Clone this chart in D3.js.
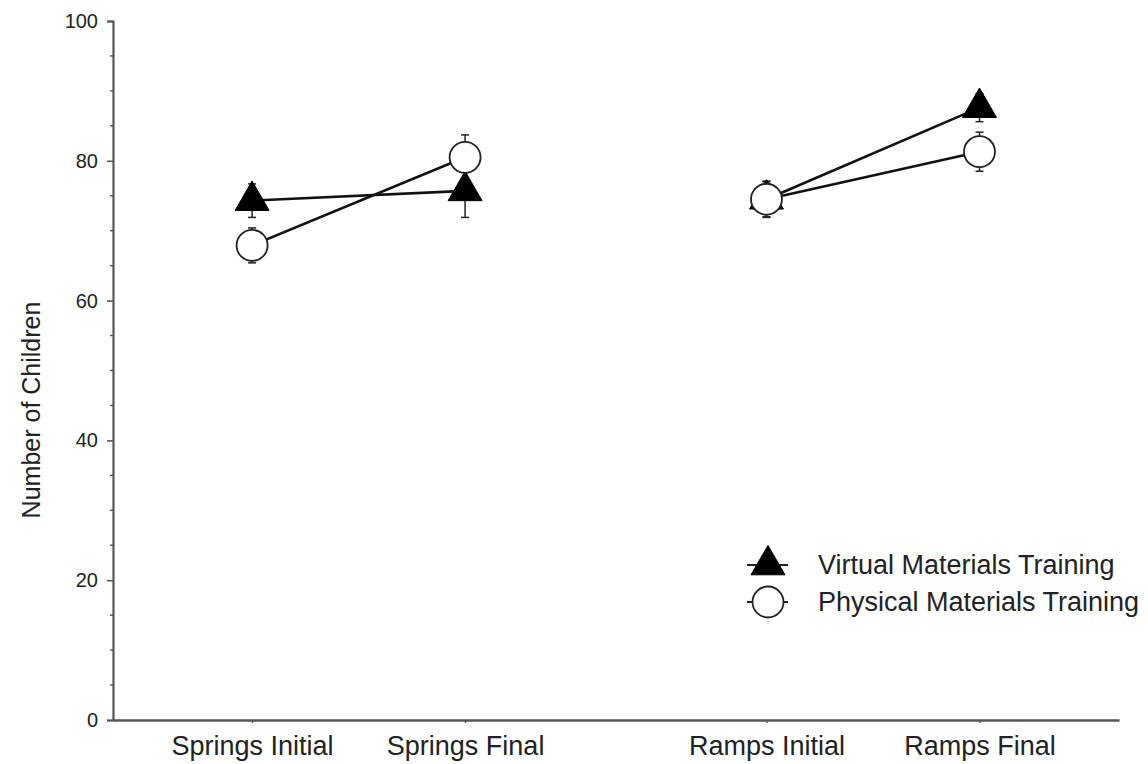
<!DOCTYPE html>
<html>
<head>
<meta charset="utf-8">
<script src="https://cdn.jsdelivr.net/npm/d3@7/dist/d3.min.js"></script>
<style>
  html, body { margin: 0; padding: 0; background: #fff; }
  svg { display: block; font-family: "Liberation Sans", Arial, Helvetica, sans-serif; }
</style>
</head>
<body>
<svg id="chart" width="1148" height="764"></svg>
<script>
// Test phases on the x axis, grouped by topic
const categories = ["Springs Initial", "Springs Final", "Ramps Initial", "Ramps Final"];
const topics = ["Springs", "Springs", "Ramps", "Ramps"];

// Mean number of children and standard error per phase
const virtualMeans = [74.3, 75.7, 74.5, 87.6];
const virtualErr   = [2.4, 3.8, 2.5, 2.0];
const physicalMeans = [67.9, 80.5, 74.5, 81.3];
const physicalErr   = [2.5, 3.2, 2.6, 2.8];

const seriesNames = ["Virtual Materials Training", "Physical Materials Training"];
const yTickValues = [0, 20, 40, 60, 80, 100];
const yLabel = "Number of Children";

const svg = d3.select("#chart");

// Extra spacing between the two topic groups
const groupGap = 0.415;
const topicOrder = Array.from(new Set(topics));
const xIndex = categories.map((c, i) => i + topicOrder.indexOf(topics[i]) * groupGap);

const x = d3.scaleLinear().domain([-0.653, 4.07]).range([113, 1119]);
const y = d3.scaleLinear().domain([0, 100]).range([720, 21]);

const axisColor = "#555";

// Y axis: labelled major ticks every 20, minor ticks every 5
const yAxis = d3.axisLeft(y).tickValues(yTickValues).tickSize(6).tickPadding(9);
const gy = svg.append("g").attr("transform", `translate(${x.range()[0]},0)`).call(yAxis);
gy.select(".domain").attr("stroke", axisColor).attr("stroke-width", 2.2);
gy.selectAll(".tick line").attr("stroke", axisColor).attr("stroke-width", 1.6);
gy.selectAll(".tick text").attr("font-size", 20).attr("fill", "#222")
  .attr("font-family", "Liberation Sans, Arial, sans-serif");

const minorTicks = d3.range(0, 101, 5).filter(v => v % 20 !== 0);
svg.append("g").selectAll("line").data(minorTicks).join("line")
  .attr("x1", x.range()[0] - 3).attr("x2", x.range()[0])
  .attr("y1", d => y(d)).attr("y2", d => y(d))
  .attr("stroke", axisColor).attr("stroke-width", 1.4);

// X axis with category ticks
const xAxis = d3.axisBottom(x).tickValues(xIndex).tickFormat((d, i) => categories[i])
  .tickSize(3).tickPadding(13).tickSizeOuter(0);
const gx = svg.append("g").attr("transform", `translate(0,${y(0)})`).call(xAxis);
gx.select(".domain").attr("stroke", axisColor).attr("stroke-width", 2.6);
gx.selectAll(".tick line").attr("stroke", axisColor).attr("stroke-width", 1.4);
gx.selectAll(".tick text").attr("font-size", 27).attr("fill", "#222")
  .attr("font-family", "Liberation Sans, Arial, sans-serif");

// Y axis title
svg.append("text")
  .attr("transform", `translate(40,${410}) rotate(-90)`)
  .attr("text-anchor", "middle")
  .attr("font-size", 25)
  .attr("fill", "#222")
  .text(yLabel);

// Build series records
const series = [
  { name: seriesNames[0], means: virtualMeans, err: virtualErr, shape: "triangle" },
  { name: seriesNames[1], means: physicalMeans, err: physicalErr, shape: "circle" }
];

// Lines join the two phases inside each topic
series.forEach(s => {
  topicOrder.forEach(t => {
    const idx = categories.map((c, i) => i).filter(i => topics[i] === t);
    svg.append("path")
      .datum(idx)
      .attr("fill", "none")
      .attr("stroke", "#111")
      .attr("stroke-width", 2.6)
      .attr("d", d3.line().x(i => x(xIndex[i])).y(i => y(s.means[i])));
  });
});

// Error bars
series.forEach(s => {
  const g = svg.append("g").attr("stroke", "#222").attr("stroke-width", 1.5);
  categories.forEach((c, i) => {
    const cx = x(xIndex[i]);
    const lo = y(s.means[i] - s.err[i]), hi = y(s.means[i] + s.err[i]);
    g.append("line").attr("x1", cx).attr("x2", cx).attr("y1", lo).attr("y2", hi);
    g.append("line").attr("x1", cx - 4).attr("x2", cx + 4).attr("y1", lo).attr("y2", lo);
    g.append("line").attr("x1", cx - 4).attr("x2", cx + 4).attr("y1", hi).attr("y2", hi);
  });
});

const triSym = d3.symbol().type(d3.symbolTriangle).size(500);

function drawMarker(sel, shape) {
  if (shape === "triangle") {
    sel.append("path").attr("d", triSym()).attr("fill", "#000").attr("stroke", "#000").attr("stroke-width", 1);
  } else {
    sel.append("circle").attr("r", 15.5).attr("fill", "#fff").attr("stroke", "#222").attr("stroke-width", 1.8);
  }
}

// Markers: triangles beneath circles
series.forEach(s => {
  categories.forEach((c, i) => {
    const g = svg.append("g").attr("transform", `translate(${x(xIndex[i])},${y(s.means[i])})`);
    drawMarker(g, s.shape);
  });
});

// Legend
const legend = svg.append("g").attr("transform", "translate(768,565)");
series.forEach((s, k) => {
  const row = legend.append("g").attr("transform", `translate(0,${k * 37})`);
  row.append("line").attr("x1", -21).attr("x2", 20).attr("y1", 0).attr("y2", 0)
    .attr("stroke", "#222").attr("stroke-width", 1.8);
  drawMarker(row, s.shape);
  row.append("text").attr("x", 50).attr("y", 9).attr("font-size", 27).attr("fill", "#222")
    .text(s.name);
});
</script>
</body>
</html>
